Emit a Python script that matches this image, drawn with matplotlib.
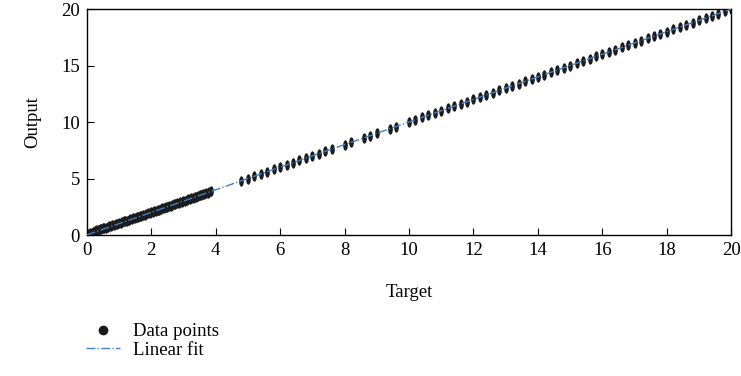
import numpy as np
import matplotlib.pyplot as plt
from matplotlib.path import Path
from matplotlib.lines import Line2D
import matplotlib.transforms as mtransforms

plt.rcParams['font.family'] = ['Liberation Serif', 'DejaVu Serif']

# dense low range
target_low = [0.00, 0.05, 0.10, 0.15, 0.20, 0.25, 0.30, 0.35, 0.40, 0.45,
              0.50, 0.55, 0.60, 0.65, 0.70, 0.75, 0.80, 0.85, 0.90, 0.95,
              1.00, 1.05, 1.10, 1.15, 1.20, 1.25, 1.30, 1.35, 1.40, 1.45,
              1.50, 1.55, 1.60, 1.65, 1.70, 1.75, 1.80, 1.85, 1.90, 1.95,
              2.00, 2.05, 2.10, 2.15, 2.20, 2.25, 2.30, 2.35, 2.40, 2.45,
              2.50, 2.55, 2.60, 2.65, 2.70, 2.75, 2.80, 2.85, 2.90, 2.95,
              3.00, 3.05, 3.10, 3.15, 3.20, 3.25, 3.30, 3.35, 3.40, 3.45,
              3.50, 3.55, 3.60, 3.65, 3.70, 3.75, 3.80, 3.85]
output_low = [0.02, 0.08, 0.16, 0.22, 0.28, 0.33, 0.40, 0.44, 0.50, 0.53,
              0.58, 0.62, 0.66, 0.70, 0.76, 0.80, 0.86, 0.90, 0.95, 1.00,
              1.06, 1.10, 1.16, 1.20, 1.25, 1.28, 1.34, 1.38, 1.42, 1.47,
              1.52, 1.56, 1.62, 1.66, 1.71, 1.76, 1.81, 1.86, 1.91, 1.96,
              2.01, 2.06, 2.11, 2.16, 2.20, 2.25, 2.31, 2.35, 2.40, 2.46,
              2.51, 2.55, 2.60, 2.66, 2.70, 2.75, 2.80, 2.85, 2.91, 2.95,
              3.00, 3.05, 3.10, 3.15, 3.20, 3.26, 3.30, 3.35, 3.40, 3.45,
              3.50, 3.55, 3.60, 3.65, 3.70, 3.75, 3.80, 3.85]

# sparse high range
target_high = [4.8, 5.0, 5.2, 5.4, 5.6, 5.8, 6.0, 6.2, 6.4, 6.6, 6.8, 7.0,
               7.2, 7.4, 7.6, 8.0, 8.2, 8.6, 8.8, 9.0, 9.4, 9.6, 10.0, 10.2,
               10.4, 10.6, 10.8, 11.0, 11.2, 11.4, 11.6, 11.8, 12.0, 12.2,
               12.4, 12.6, 12.8, 13.0, 13.2, 13.4, 13.6, 13.8, 14.0, 14.2,
               14.4, 14.6, 14.8, 15.0, 15.2, 15.4, 15.6, 15.8, 16.0, 16.2,
               16.4, 16.6, 16.8, 17.0, 17.2, 17.4, 17.6, 17.8, 18.0, 18.2,
               18.4, 18.6, 18.8, 19.0, 19.2, 19.4, 19.6, 19.8, 20.0]
output_high = [4.79, 5.0, 5.21, 5.39, 5.6, 5.8, 6.02, 6.2, 6.4, 6.6, 6.8, 7.0,
               7.2, 7.4, 7.6, 8.0, 8.2, 8.6, 8.8, 9.0, 9.4, 9.6, 10.0, 10.2,
               10.4, 10.6, 10.8, 11.0, 11.2, 11.4, 11.6, 11.8, 12.0, 12.2,
               12.4, 12.6, 12.8, 13.0, 13.2, 13.4, 13.6, 13.8, 14.0, 14.2,
               14.4, 14.6, 14.8, 15.0, 15.2, 15.4, 15.6, 15.8, 16.0, 16.2,
               16.4, 16.6, 16.8, 17.0, 17.2, 17.4, 17.6, 17.8, 18.0, 18.2,
               18.4, 18.6, 18.8, 19.0, 19.2, 19.4, 19.6, 19.8, 20.0]

fit_x = [0, 20]
fit_slope = 1.0
fit_intercept = 0.0

ticks_x = [0, 2, 4, 6, 8, 10, 12, 14, 16, 18, 20]
ticks_y = [0, 5, 10, 15, 20]

# vertically stretched blob, the clusters look like that
ell = Path.unit_circle().transformed(mtransforms.Affine2D().scale(0.45, 1.0))

fig = plt.figure(figsize=(7.41, 3.76), dpi=100)
ax = fig.add_axes([0.117, 0.375, 0.870, 0.601])

pts_color = '#1c1c1c'
fit_color = '#3f80c6'
fs = 13.5

ax.plot(target_low, output_low, linestyle='none', marker=ell, markersize=7.5,
        color=pts_color, markeredgewidth=0)
ax.plot(target_high, output_high, linestyle='none', marker=ell, markersize=7.5,
        color=pts_color, markeredgewidth=0)

fx = np.array(fit_x)
ax.plot(fx, fit_slope * fx + fit_intercept, linestyle='-.', color=fit_color,
        linewidth=1.0, zorder=3)

ax.set_xlim(0, 20)
ax.set_ylim(0, 20)
ax.set_xticks(ticks_x)
ax.set_yticks(ticks_y)
ax.tick_params(direction='in', length=5, width=0.8, labelsize=fs,
               top=False, right=False, pad=5)
for s in ax.spines.values():
    s.set_linewidth(1.0)

ax.set_xlabel('Target', fontsize=fs, labelpad=18)
ax.set_ylabel('Output', fontsize=fs, labelpad=14)

handles = [Line2D([], [], linestyle='none', marker='o', markersize=6, color=pts_color),
           Line2D([], [], linestyle='-.', color=fit_color, linewidth=1.0)]
fig.legend(handles, ['Data points', 'Linear fit'], loc='upper left',
           bbox_to_anchor=(0.106, 0.16), frameon=False, fontsize=fs,
           handlelength=1.8, handletextpad=0.7, labelspacing=0.05,
           borderaxespad=0)

plt.savefig('out.png', dpi=100)
